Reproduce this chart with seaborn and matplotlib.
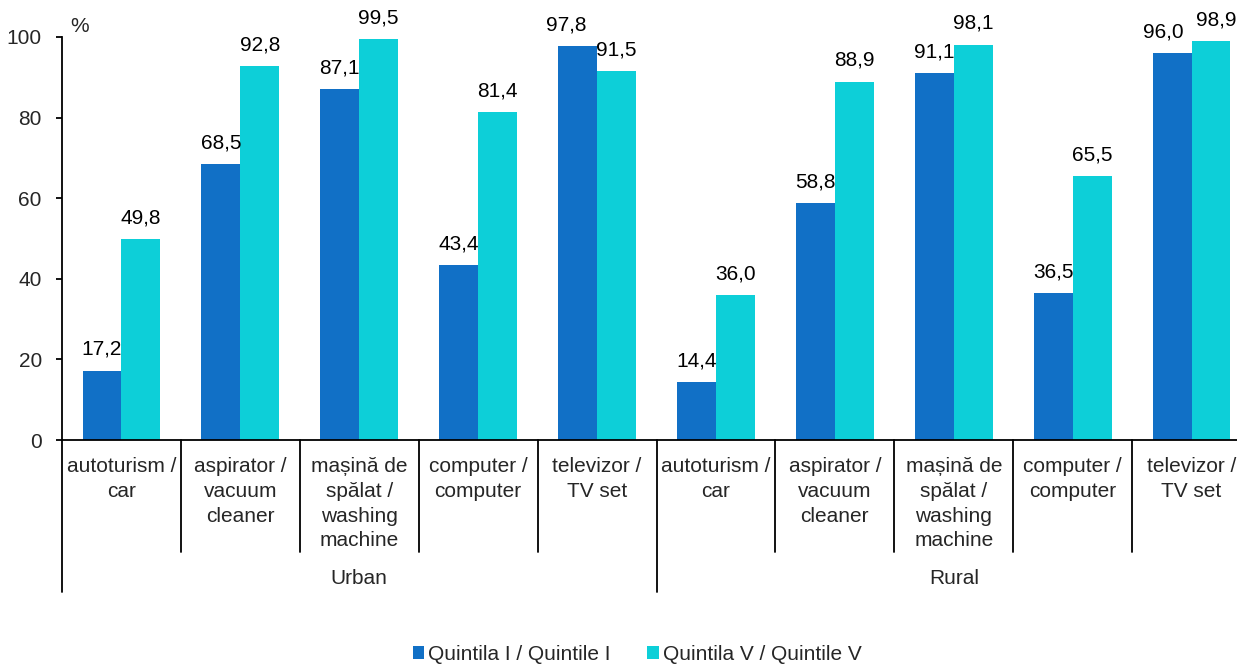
import matplotlib
matplotlib.use("Agg")
import matplotlib.pyplot as plt
from matplotlib.patches import Rectangle
import seaborn as sns
import pandas as pd

# ---- data ----
areas = ["Urban", "Rural"]
items = [
    "autoturism /\ncar",
    "aspirator /\nvacuum\ncleaner",
    "mașină de\nspălat /\nwashing\nmachine",
    "computer /\ncomputer",
    "televizor /\nTV set",
]
series_names = ["Quintila I / Quintile I", "Quintila V / Quintile V"]
quintile_1 = [17.2, 68.5, 87.1, 43.4, 97.8, 14.4, 58.8, 91.1, 36.5, 96.0]
quintile_5 = [49.8, 92.8, 99.5, 81.4, 91.5, 36.0, 88.9, 98.1, 65.5, 98.9]
y_ticks = [0, 20, 40, 60, 80, 100]
colors = ["#1170C6", "#0DCFD8"]

sns.set_style("white")
plt.rcParams["font.family"] = ["Liberation Sans", "DejaVu Sans"]
FS = 15

keys = [f"{a}|{i}" for a in areas for i in range(len(items))]
rows = []
for k, v1, v5 in zip(keys, quintile_1, quintile_5):
    rows.append({"key": k, "series": series_names[0], "value": v1})
    rows.append({"key": k, "series": series_names[1], "value": v5})
df = pd.DataFrame(rows)

W, H = 1237, 665
fig = plt.figure(figsize=(W / 100, H / 100), dpi=100)
ax_left, ax_right, ax_top, ax_bottom = 62, 1251, 37, 440
ax = fig.add_axes([ax_left / W, 1 - ax_bottom / H, (ax_right - ax_left) / W, (ax_bottom - ax_top) / H])

sns.barplot(data=df, x="key", y="value", hue="series", order=keys, hue_order=series_names,
            palette=colors, saturation=1, width=0.655, dodge=True, ax=ax, linewidth=0,
            errorbar=None)

# small horizontal nudges (in points) of a few value labels, as in the original layout
label_nudge = {(0, 4): -8.0, (0, 9): -6.5, (1, 9): 3.5}
PAD = 8.5
for si, cont in enumerate(ax.containers):
    vals = [p.get_height() for p in cont]
    anns = ax.bar_label(cont, labels=[f"{v:.1f}".replace(".", ",") for v in vals],
                        padding=PAD, fontsize=FS, color="black")
    for ci, a in enumerate(anns):
        dx = label_nudge.get((si, ci), 0.0)
        if dx:
            a.xyann = (dx, PAD)

ax.set_ylim(0, 100)
ax.set_xlim(-0.5, len(keys) - 0.5)
ax.set_yticks(y_ticks)
ax.set_yticklabels([str(t) for t in y_ticks], fontsize=FS)
ax.tick_params(axis="y", direction="out", length=4, width=1.3, color="black", pad=10.5, left=True)
ax.set_xticks([])
ax.set_xlabel("")
ax.set_ylabel("")
for s in ["top", "right"]:
    ax.spines[s].set_visible(False)
for s in ["left", "bottom"]:
    ax.spines[s].set_color("black")
    ax.spines[s].set_linewidth(1.3)

ax.text(8 / (ax_right - ax_left), 1.0 + 1 / (ax_bottom - ax_top), "%", transform=ax.transAxes,
        fontsize=FS, ha="left", va="bottom")

ah = ax_bottom - ax_top
tr = ax.get_xaxis_transform()
n = len(items)
for j in range(len(keys) + 1):
    x = j - 0.5
    outer = (j % n == 0)
    y_end = -(152 / ah) if outer else -(112 / ah)
    ax.plot([x, x], [0, y_end], transform=tr, color="black", lw=1.3, clip_on=False)

for j, k in enumerate(keys):
    lab = items[j % n]
    ax.text(j, -17 / ah, lab, transform=tr, ha="center", va="top", fontsize=FS,
            linespacing=1.385, multialignment="center")

for g, a in enumerate(areas):
    ax.text(g * n + (n - 1) / 2, -138 / ah, a, transform=tr, ha="center", va="center", fontsize=FS)

leg = ax.get_legend()
if leg is not None:
    leg.remove()
handles = [Rectangle((0, 0), 1, 1, facecolor=c, edgecolor="none") for c in colors]
fig.legend(handles, series_names, loc="center", bbox_to_anchor=(637 / W, 1 - 654.5 / H),
           ncol=2, frameon=False, fontsize=FS, handlelength=0.55, handleheight=0.55,
           handletextpad=0.2, columnspacing=1.75, borderpad=0)

fig.savefig("out.png", dpi=100)
